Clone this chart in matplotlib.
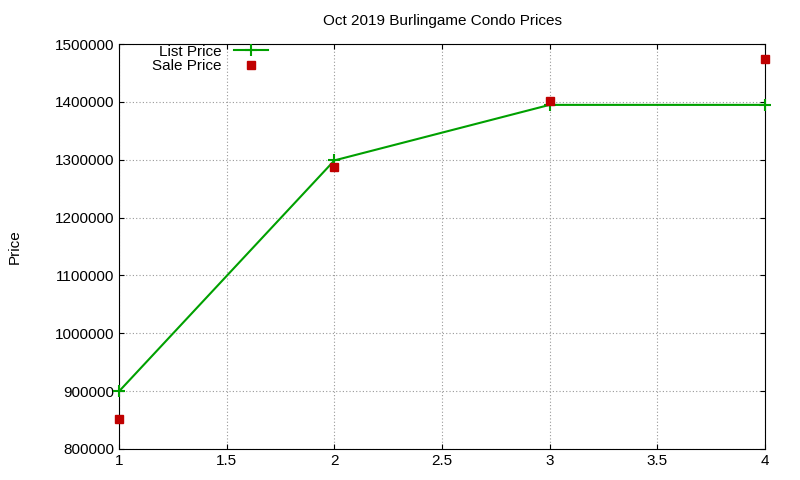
import matplotlib
matplotlib.use("Agg")
import matplotlib.pyplot as plt

x = [1, 2, 3, 4]
list_price = [900000, 1299000, 1395000, 1395000]
sale_price = [852000, 1288000, 1402000, 1475000]
xticks = [1, 1.5, 2, 2.5, 3, 3.5, 4]
yticks = [800000, 900000, 1000000, 1100000, 1200000, 1300000, 1400000, 1500000]

plt.rcParams['font.family'] = ['Liberation Sans', 'DejaVu Sans']
fig = plt.figure(figsize=(8, 4.8), dpi=100)
ax = fig.add_axes([0.149, 0.0646, 0.807, 0.8434])
ax.plot(x, list_price, color='#00a000', lw=1.5, marker='+', ms=8, mew=1.5, label='List Price', clip_on=False, zorder=3)
ax.plot(x, sale_price, ls='none', marker='s', color='#c00000', ms=6, label='Sale Price', clip_on=False, zorder=3)
ax.set_xlim(1, 4)
ax.set_ylim(800000, 1500000)
ax.set_xticks(xticks)
ax.set_xticklabels([f"{t:g}" for t in xticks])
ax.set_yticks(yticks)
ax.set_yticklabels([str(t) for t in yticks])
ax.tick_params(direction='in', top=True, right=True, labelsize=11)
ax.grid(True, ls=(0, (1, 2)), color='#999999', lw=0.8)
ax.set_ylabel('Price', fontsize=11, labelpad=24)
ax.set_title('Oct 2019 Burlingame Condo Prices', fontsize=11, pad=14)
leg = ax.legend(loc='upper left', bbox_to_anchor=(0.035, 1.025), markerfirst=False, frameon=False,
                fontsize=11, handlelength=2.2, borderaxespad=0.3, labelspacing=0.05)
for t in leg.get_texts():
    t.set_ha('right')
fig.savefig('out.png', dpi=100)
